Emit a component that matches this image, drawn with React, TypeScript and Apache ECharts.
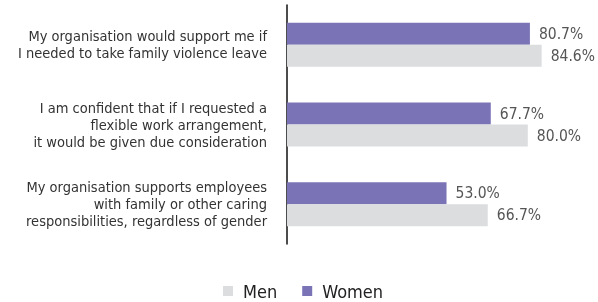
import React, { useEffect, useRef } from "react";
import * as echarts from "echarts";

const categories = [
  "My organisation would support me if\nI needed to take family violence leave",
  "I am confident that if I requested a\nflexible work arrangement,\nit would be given due consideration",
  "My organisation supports employees\nwith family or other caring\nresponsibilities, regardless of gender",
];
const women = [80.7, 67.7, 53.0];
const men = [84.6, 80.0, 66.7];

const FONT = "'DejaVu Sans Condensed', 'Liberation Sans Narrow', Arial, sans-serif";

export default function App() {
  const ref = useRef<HTMLDivElement>(null);
  useEffect(() => {
    if (!ref.current) return;
    const chart = echarts.init(ref.current, undefined, { renderer: "svg" });
    const valueLabel = {
      show: true,
      position: "right",
      distance: 9,
      formatter: (p: any) => p.value.toFixed(1) + "%",
      fontFamily: FONT,
      fontSize: 15.5,
      color: "#555",
    };
    chart.setOption({
      animation: false,
      textStyle: { fontFamily: FONT },
      grid: { left: 287, right: 10, top: 5, height: 239 },
      legend: {
        data: ["Men", "Women"],
        top: 277,
        left: 218,
        icon: "rect",
        itemWidth: 10,
        itemHeight: 10,
        itemGap: 25,
        textStyle: { fontFamily: FONT, fontSize: 18, color: "#222", padding: [0, 0, 0, 5] },
      },
      xAxis: {
        type: "value",
        min: 0,
        max: 100,
        show: false,
      },
      yAxis: {
        type: "category",
        inverse: true,
        data: categories,
        axisLine: { show: true, lineStyle: { color: "#111", width: 1.5 } },
        axisTick: { show: false },
        axisLabel: {
          margin: 20,
          fontFamily: FONT,
          fontSize: 14.5,
          lineHeight: 17,
          color: "#333",
          align: "right",
        },
      },
      series: [
        {
          name: "Women",
          type: "bar",
          data: women,
          barWidth: 22,
          barGap: "0%",
          itemStyle: { color: "#7a74b6" },
          label: valueLabel,
        },
        {
          name: "Men",
          type: "bar",
          data: men,
          barWidth: 22,
          barGap: "0%",
          itemStyle: { color: "#dcdddf" },
          label: valueLabel,
        },
      ],
    });
    return () => chart.dispose();
  }, []);
  return (
    <div
      ref={ref}
      style={{ position: "fixed", left: 0, top: 0, width: 598, height: 302 }}
    />
  );
}
